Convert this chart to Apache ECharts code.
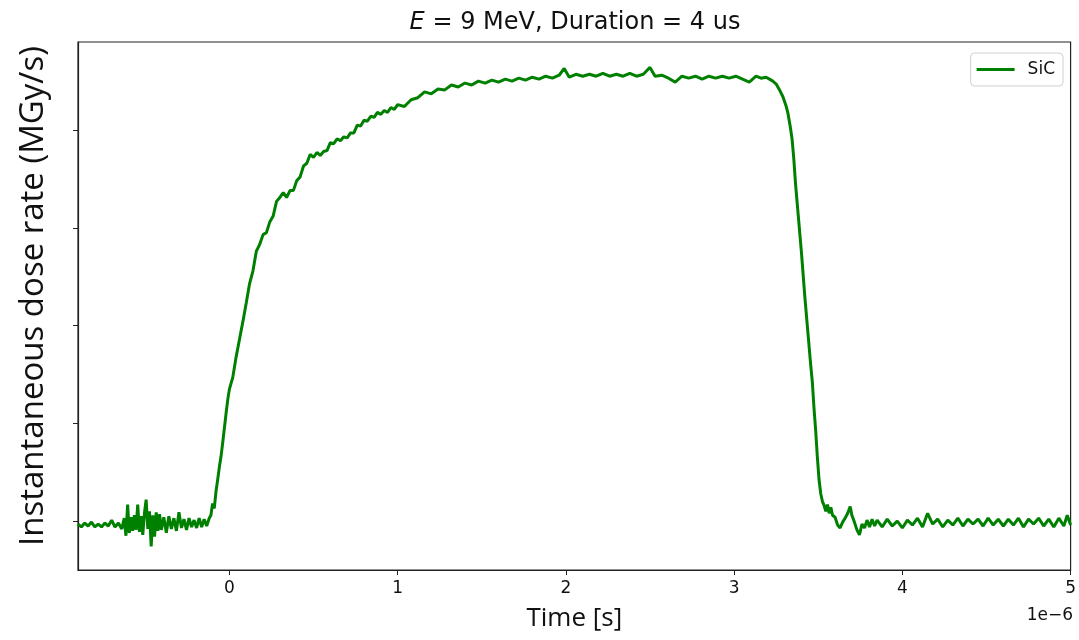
<!DOCTYPE html>
<html>
<head>
<meta charset="utf-8">
<script src="https://cdn.jsdelivr.net/npm/echarts@6/dist/echarts.min.js"></script>
<style>
html,body{margin:0;padding:0;background:#fff;}
#chart{width:1079px;height:640px;}
</style>
</head>
<body>
<div id="chart"></div>
<script>
// Time in microseconds (axis shows x 1e-6 s)
var timeUs = [
-0.90,-0.88,-0.86,-0.84,-0.82,-0.80,-0.78,-0.76,-0.74,-0.72,
-0.70,-0.68,-0.66,-0.64,-0.625,-0.615,-0.605,-0.595,-0.585,-0.575,
-0.565,-0.555,-0.545,-0.535,-0.525,-0.515,-0.505,-0.495,-0.485,-0.475,
-0.465,-0.455,-0.445,-0.435,-0.425,-0.415,-0.405,-0.39,-0.375,-0.36,
-0.345,-0.33,-0.315,-0.30,-0.285,-0.27,-0.255,-0.24,-0.225,-0.21,
-0.195,-0.18,-0.165,-0.15,-0.135,-0.12,-0.11,-0.10,-0.09,-0.08,
-0.07,-0.06,-0.05,-0.04,-0.03,-0.02,-0.01,
0.00,0.02,0.04,0.06,0.08,0.10,0.12,0.14,0.16,0.18,
0.20,0.22,0.24,0.26,0.28,0.30,0.32,0.34,0.36,0.38,
0.40,0.42,0.44,0.46,0.48,0.50,0.52,0.54,0.56,0.58,
0.60,0.62,0.64,0.66,0.68,0.70,0.72,0.74,0.76,0.78,
0.80,0.82,0.84,0.86,0.88,0.90,0.92,0.94,0.96,0.98,
1.00,1.04,1.08,1.12,1.16,1.20,1.24,1.28,1.32,1.36,
1.40,1.44,1.48,1.52,1.56,1.60,1.64,1.68,1.72,1.76,
1.80,1.84,1.88,1.92,1.96,1.99,2.02,2.06,2.10,2.14,
2.18,2.22,2.26,2.30,2.34,2.38,2.42,2.46,2.50,2.53,
2.57,2.61,2.65,2.69,2.73,2.77,2.81,2.85,2.89,2.93,
2.97,3.01,3.05,3.09,3.13,3.16,3.19,3.21,3.23,3.25,
3.27,3.29,3.31,3.32,3.335,3.345,3.355,3.365,3.38,3.40,
3.42,3.44,3.455,3.465,3.475,3.485,3.495,3.505,3.515,3.525,
3.535,3.545,3.555,3.565,3.575,3.585,3.60,3.615,3.63,3.645,
3.66,3.675,3.69,3.70,3.715,3.73,3.745,3.76,3.775,3.79,
3.805,3.82,3.835,3.85,3.88,3.91,3.94,3.97,4.00,4.03,
4.06,4.09,4.12,4.15,4.18,4.21,4.24,4.27,4.30,4.33,
4.36,4.39,4.42,4.45,4.48,4.51,4.54,4.57,4.60,4.63,
4.66,4.69,4.72,4.75,4.78,4.81,4.84,4.87,4.90,4.93,
4.96,4.98,5.00
];
// Instantaneous dose rate (unlabelled units, one unit per y tick)
var doseRate = [
-0.03,-0.06,-0.02,-0.05,-0.01,-0.06,-0.03,-0.06,-0.02,-0.05,
0.01,-0.06,-0.02,-0.08,0.03,-0.15,0.17,-0.12,0.04,-0.10,
0.06,-0.09,0.17,-0.11,0.05,-0.14,0.08,0.22,-0.08,0.10,
-0.26,0.06,-0.16,0.09,-0.10,0.07,-0.09,0.04,-0.12,0.05,
-0.08,0.03,-0.10,0.09,-0.07,0.02,-0.09,0.03,-0.06,0.01,
-0.07,0.03,-0.06,0.02,-0.05,0.03,0.06,0.18,0.13,0.30,
0.42,0.55,0.66,0.80,0.95,1.10,1.24,
1.35,1.47,1.68,1.86,2.04,2.23,2.43,2.56,2.76,2.83,
2.93,2.95,3.06,3.12,3.27,3.31,3.36,3.31,3.38,3.38,
3.48,3.52,3.63,3.66,3.75,3.72,3.77,3.74,3.78,3.79,
3.87,3.86,3.91,3.89,3.93,3.92,3.97,3.97,4.05,4.04,
4.10,4.09,4.14,4.13,4.18,4.16,4.20,4.18,4.23,4.21,
4.26,4.24,4.31,4.33,4.39,4.37,4.42,4.41,4.46,4.44,
4.48,4.46,4.50,4.48,4.51,4.49,4.52,4.50,4.53,4.51,
4.54,4.52,4.55,4.53,4.56,4.63,4.54,4.57,4.55,4.57,
4.55,4.58,4.55,4.57,4.55,4.58,4.55,4.57,4.64,4.55,
4.56,4.53,4.49,4.55,4.53,4.55,4.52,4.55,4.53,4.55,
4.53,4.55,4.52,4.49,4.55,4.53,4.54,4.52,4.50,4.47,
4.41,4.34,4.24,4.17,4.02,3.90,3.70,3.45,3.15,2.75,
2.30,1.90,1.60,1.42,1.15,0.92,0.65,0.42,0.28,0.20,
0.16,0.10,0.17,0.08,0.14,0.06,0.04,-0.04,-0.07,-0.01,
0.03,0.08,0.15,0.06,-0.01,-0.09,-0.14,-0.03,-0.07,0.01,
-0.06,0.02,-0.05,0.01,-0.06,0.02,-0.05,0.00,-0.07,0.01,
-0.04,0.03,-0.06,0.08,-0.03,0.02,-0.06,0.01,-0.04,0.03,
-0.05,0.02,-0.03,0.02,-0.05,0.03,-0.04,0.02,-0.05,0.02,
-0.04,0.03,-0.06,0.02,-0.03,0.03,-0.05,0.02,-0.06,0.03,
-0.05,0.06,-0.04
];
var xTickValues = [0, 1, 2, 3, 4, 5];
var yTickValues = [0, 1, 2, 3, 4];
var seriesName = 'SiC';
var titleText = '{it|E} = 9 MeV, Duration = 4 us';
var xName = 'Time [s]';
var yName = 'Instantaneous dose rate (MGy/s)';
var offsetText = '1e\u22126';

var pts = timeUs.map(function (t, i) { return [t, doseRate[i]]; });

var chart = echarts.init(document.getElementById('chart'), null, {renderer: 'canvas'});
chart.setOption({
  animation: false,
  backgroundColor: '#fff',
  grid: {left: 78, right: 6, top: 42, bottom: 70, show: true, borderColor: '#222', borderWidth: 1.2, backgroundColor: 'transparent'},
  legend: {
    data: [{name: seriesName, icon: 'rect'}],
    right: 16, top: 53,
    itemWidth: 38, itemHeight: 3,
    padding: [8, 8, 8, 6],
    borderColor: '#d0d0d0', borderWidth: 1, borderRadius: 4,
    backgroundColor: '#fff',
    textStyle: {fontFamily: 'DejaVu Sans', fontSize: 17, color: '#111', padding: [0, 0, 0, 8]}
  },
  xAxis: {
    type: 'value', min: -0.9, max: 5,
    name: xName, nameLocation: 'middle', nameGap: 36,
    nameTextStyle: {fontFamily: 'Open Sans', fontSize: 26, color: '#111'},
    axisLine: {show: true, onZero: false, lineStyle: {color: '#222', width: 1.2}},
    axisTick: {show: true, inside: false, length: 5, customValues: xTickValues, lineStyle: {color: '#222', width: 1}},
    axisLabel: {show: true, customValues: xTickValues, margin: 10, fontFamily: 'DejaVu Sans', fontSize: 17, color: '#111'},
    splitLine: {show: false}
  },
  yAxis: {
    type: 'value', min: -0.5, max: 4.9,
    name: yName, nameLocation: 'middle', nameGap: 28,
    nameTextStyle: {fontFamily: 'Open Sans', fontSize: 33, color: '#111', padding: [0, 0, 0, 20]},
    axisLine: {show: true, onZero: false, lineStyle: {color: '#222', width: 1.2}},
    axisTick: {show: true, inside: false, length: 5, customValues: yTickValues, lineStyle: {color: '#222', width: 1}},
    axisLabel: {show: false},
    splitLine: {show: false}
  },
  graphic: [
    {type: 'text', x: 575, y: 23, style: {
      text: titleText, fontFamily: 'DejaVu Sans', fontSize: 24, fill: '#111',
      align: 'center', verticalAlign: 'middle',
      rich: {it: {fontFamily: 'DejaVu Sans', fontStyle: 'italic', fontSize: 24, fill: '#111'}}
    }},
    {type: 'text', x: 1073, y: 616, style: {
      text: offsetText, fontFamily: 'DejaVu Sans', fontSize: 17, fill: '#111',
      align: 'right', verticalAlign: 'middle'
    }}
  ],
  series: [{
    name: seriesName, type: 'line', data: pts,
    showSymbol: false, symbol: 'none',
    lineStyle: {color: '#008000', width: 3},
    itemStyle: {color: '#008000'},
    sampling: null, smooth: false
  }]
});
</script>
</body>
</html>
